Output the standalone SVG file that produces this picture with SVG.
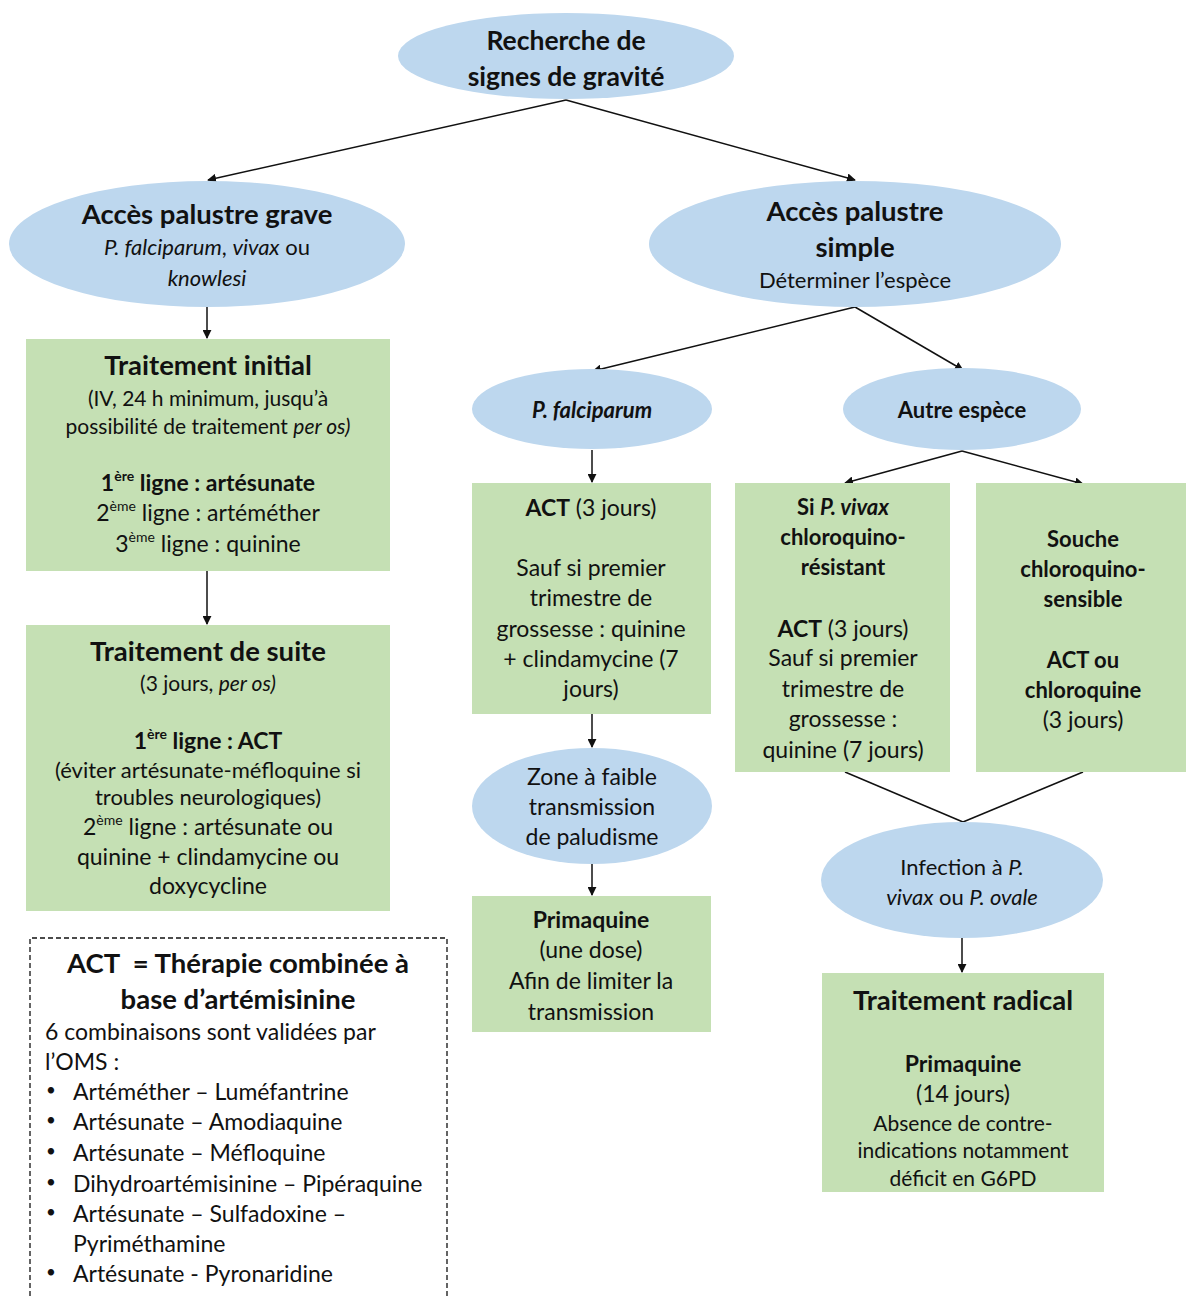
<svg xmlns="http://www.w3.org/2000/svg" width="1186" height="1296" viewBox="0 0 1186 1296">
<defs>
<style>
text{font-family:Lato,"Open Sans","Liberation Sans",sans-serif;fill:#111;text-anchor:middle;dominant-baseline:central}
.ell{fill:#BDD7EE}
.box{fill:#C5E0B4}
.t25{font-size:27.5px;font-weight:bold}
.t24{font-size:26.5px;font-weight:bold}
.t21{font-size:23px}
.t20{font-size:22px}
.t19{font-size:21px}
.b{font-weight:bold}
.i{font-style:italic}
.con line{stroke:#111;stroke-width:1.5}
.arr{marker-end:url(#ah)}
.left{text-anchor:start}
.bul{font-size:17px}
</style>
<marker id="ah" viewBox="0 0 10 10" refX="9" refY="5" markerWidth="9" markerHeight="9" markerUnits="userSpaceOnUse" orient="auto">
<path d="M0,0 L10,5 L0,10 z" fill="#111"/>
</marker>
</defs>
<rect width="1186" height="1296" fill="#fff"/>

<g class="con">
<line class="arr" x1="566" y1="100" x2="208" y2="180"/>
<line class="arr" x1="566" y1="100" x2="855" y2="180"/>
<line class="arr" x1="207" y1="307" x2="207" y2="338"/>
<line class="arr" x1="207" y1="571" x2="207" y2="624"/>
<line class="arr" x1="855" y1="307" x2="593" y2="371"/>
<line class="arr" x1="855" y1="307" x2="963" y2="370"/>
<line class="arr" x1="592" y1="450" x2="592" y2="482"/>
<line class="arr" x1="592" y1="714" x2="592" y2="747"/>
<line class="arr" x1="592" y1="864" x2="592" y2="895"/>
<line class="arr" x1="962" y1="451" x2="845" y2="483"/>
<line class="arr" x1="962" y1="451" x2="1083" y2="484"/>
<line x1="845" y1="772" x2="963" y2="822"/>
<line x1="1083" y1="772" x2="963" y2="822"/>
<line class="arr" x1="962" y1="938" x2="962" y2="972"/>
</g>

<g id="recherche">
<ellipse class="ell" cx="566" cy="56" rx="168" ry="43"/>
<text class="t24" x="566" y="40">Recherche de</text>
<text class="t24" x="566" y="76">signes de gravité</text>
</g>

<g id="grave">
<ellipse class="ell" cx="207" cy="244" rx="198" ry="63"/>
<text class="t25" x="207" y="213">Accès palustre grave</text>
<text class="t20" x="207" y="246"><tspan class="i">P. falciparum</tspan>, <tspan class="i">vivax</tspan> ou</text>
<text class="t20 i" x="207" y="277">knowlesi</text>
</g>

<g id="simple">
<ellipse class="ell" cx="855" cy="244" rx="206" ry="63"/>
<text class="t25" x="855" y="210">Accès palustre</text>
<text class="t25" x="855" y="246">simple</text>
<text class="t20" x="855" y="279">Déterminer l’espèce</text>
</g>

<g id="initial">
<rect class="box" x="26" y="339" width="364" height="232"/>
<text class="t25" x="208" y="364">Traitement initial</text>
<text class="t19" x="208" y="397">(IV, 24 h minimum, jusqu’à</text>
<text class="t19" x="208" y="425">possibilité de traitement <tspan class="i">per os)</tspan></text>
<text class="t21 b" x="208" y="482">1<tspan font-size="14" dy="-7">ère</tspan><tspan dy="7"> ligne : artésunate</tspan></text>
<text class="t21" x="208" y="512">2<tspan font-size="14" dy="-7">ème</tspan><tspan dy="7"> ligne : artéméther</tspan></text>
<text class="t21" x="208" y="543">3<tspan font-size="14" dy="-7">ème</tspan><tspan dy="7"> ligne : quinine</tspan></text>
</g>

<g id="suite">
<rect class="box" x="26" y="625" width="364" height="286"/>
<text class="t25" x="208" y="650">Traitement de suite</text>
<text class="t19" x="208" y="682">(3 jours, <tspan class="i">per os)</tspan></text>
<text class="t21 b" x="208" y="740">1<tspan font-size="14" dy="-7">ère</tspan><tspan dy="7"> ligne : ACT</tspan></text>
<text class="t20" x="208" y="769">(éviter artésunate-méfloquine si</text>
<text class="t20" x="208" y="796">troubles neurologiques)</text>
<text class="t21" x="208" y="826">2<tspan font-size="14" dy="-7">ème</tspan><tspan dy="7"> ligne : artésunate ou</tspan></text>
<text class="t21" x="208" y="856">quinine + clindamycine ou</text>
<text class="t21" x="208" y="885">doxycycline</text>
</g>

<g id="legende">
<path d="M30,1296 V938 H447 V1296" fill="none" stroke="#111" stroke-width="1.3" stroke-dasharray="5,3"/>
<text class="t25" x="238" y="962">ACT &#160;= Thérapie combinée à</text>
<text class="t25" x="238" y="998">base d’artémisinine</text>
<text class="t21 left" x="45" y="1031">6 combinaisons sont validées par</text>
<text class="t21 left" x="45" y="1061">l’OMS :</text>
<text class="t21 left bul" x="46" y="1089">•</text><text class="t21 left" x="73" y="1091">Artéméther – Luméfantrine</text>
<text class="t21 left bul" x="46" y="1119">•</text><text class="t21 left" x="73" y="1121">Artésunate – Amodiaquine</text>
<text class="t21 left bul" x="46" y="1150">•</text><text class="t21 left" x="73" y="1152">Artésunate – Méfloquine</text>
<text class="t21 left bul" x="46" y="1181">•</text><text class="t21 left" x="73" y="1183">Dihydroartémisinine – Pipéraquine</text>
<text class="t21 left bul" x="46" y="1211">•</text><text class="t21 left" x="73" y="1213">Artésunate – Sulfadoxine –</text>
<text class="t21 left" x="73" y="1243">Pyriméthamine</text>
<text class="t21 left bul" x="46" y="1271">•</text><text class="t21 left" x="73" y="1273">Artésunate - Pyronaridine</text>
</g>

<g id="falciparum">
<ellipse class="ell" cx="592" cy="409" rx="120" ry="40"/>
<text class="t20 b i" x="592" y="409">P. falciparum</text>
</g>

<g id="autre">
<ellipse class="ell" cx="962" cy="409" rx="119" ry="41"/>
<text class="t20 b" x="962" y="409">Autre espèce</text>
</g>

<g id="act">
<rect class="box" x="472" y="483" width="239" height="231"/>
<text class="t21" x="591" y="507"><tspan class="b">ACT</tspan> (3 jours)</text>
<text class="t21" x="591" y="567">Sauf si premier</text>
<text class="t21" x="591" y="597">trimestre de</text>
<text class="t21" x="591" y="628">grossesse : quinine</text>
<text class="t21" x="591" y="658">+ clindamycine (7</text>
<text class="t21" x="591" y="688">jours)</text>
</g>

<g id="zone">
<ellipse class="ell" cx="592" cy="806" rx="120" ry="58"/>
<text class="t21" x="592" y="776">Zone à faible</text>
<text class="t21" x="592" y="806">transmission</text>
<text class="t21" x="592" y="836">de paludisme</text>
</g>

<g id="primaquine">
<rect class="box" x="472" y="896" width="239" height="136"/>
<text class="t21 b" x="591" y="919">Primaquine</text>
<text class="t21" x="591" y="949">(une dose)</text>
<text class="t21" x="591" y="980">Afin de limiter la</text>
<text class="t21" x="591" y="1011">transmission</text>
</g>

<g id="vivax">
<rect class="box" x="735" y="483" width="215" height="289"/>
<text class="t20 b" x="843" y="506">Si <tspan class="i">P. vivax</tspan></text>
<text class="t20 b" x="843" y="536">chloroquino-</text>
<text class="t20 b" x="843" y="566">résistant</text>
<text class="t21" x="843" y="628"><tspan class="b">ACT</tspan> (3 jours)</text>
<text class="t21" x="843" y="657">Sauf si premier</text>
<text class="t21" x="843" y="688">trimestre de</text>
<text class="t21" x="843" y="718">grossesse :</text>
<text class="t21" x="843" y="749">quinine (7 jours)</text>
</g>

<g id="souche">
<rect class="box" x="976" y="483" width="210" height="289"/>
<text class="t20 b" x="1083" y="538">Souche</text>
<text class="t20 b" x="1083" y="568">chloroquino-</text>
<text class="t20 b" x="1083" y="598">sensible</text>
<text class="t20 b" x="1083" y="659">ACT ou</text>
<text class="t20 b" x="1083" y="689">chloroquine</text>
<text class="t21" x="1083" y="719">(3 jours)</text>
</g>

<g id="infection">
<ellipse class="ell" cx="962" cy="880" rx="141" ry="58"/>
<text class="t20" x="962" y="866">Infection à <tspan class="i">P.</tspan></text>
<text class="t20" x="962" y="896"><tspan class="i">vivax</tspan> ou <tspan class="i">P. ovale</tspan></text>
</g>

<g id="radical">
<rect class="box" x="822" y="973" width="282" height="219"/>
<text class="t25" x="963" y="999">Traitement radical</text>
<text class="t21 b" x="963" y="1063">Primaquine</text>
<text class="t21" x="963" y="1093">(14 jours)</text>
<text class="t19" x="963" y="1122">Absence de contre-</text>
<text class="t19" x="963" y="1149">indications notamment</text>
<text class="t19" x="963" y="1177">déficit en G6PD</text>
</g>
</svg>
